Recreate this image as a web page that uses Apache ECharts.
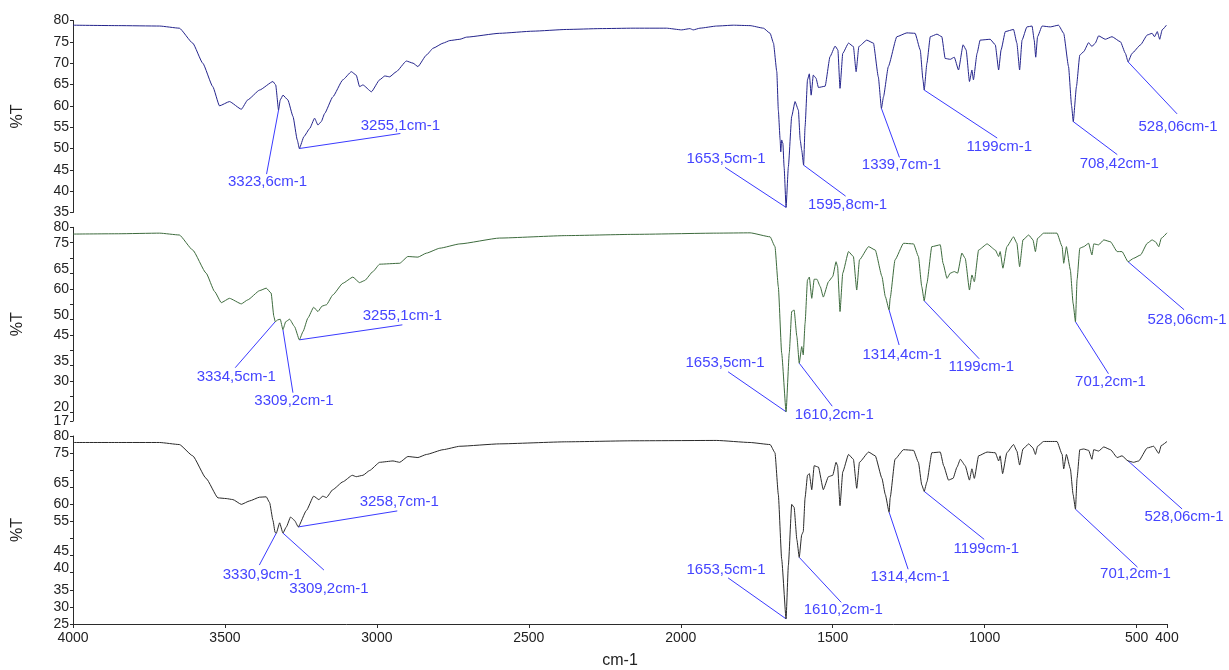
<!DOCTYPE html>
<html>
<head>
<meta charset="utf-8">
<script src="https://cdn.jsdelivr.net/npm/echarts@6/dist/echarts.min.js"></script>
<style>
  html, body { margin: 0; padding: 0; background: #ffffff; }
  #chart { width: 1229px; height: 670px; }
</style>
</head>
<body>
<div id="chart"></div>
<script>
// FTIR transmittance spectra, three samples stacked; x = wavenumber (cm-1), y = %T

const wavenumberTicks = [4000, 3500, 3000, 2500, 2000, 1500, 1000, 500, 400];

const topTicks = [35, 40, 45, 50, 55, 60, 65, 70, 75, 80];
const topLabels = [35, 40, 45, 50, 55, 60, 65, 70, 75, 80];
const topRaised = [];

const middleTicks = [17, 20, 25, 30, 35, 40, 45, 50, 55, 60, 65, 70, 75, 80];
const middleLabels = [17, 30, 45, 60, 75, 80];
const middleRaised = [20, 35, 50, 65];

const bottomTicks = [25, 30, 35, 40, 45, 50, 55, 60, 65, 70, 75, 80];
const bottomLabels = [25, 30, 35, 55, 60, 75, 80];
const bottomRaised = [40, 45, 65];

const spectrumTop = [
  [4000,78.9],[3850,78.8],[3715,78.7],[3650,78.2],[3606,74.7],[3573,70.0],[3540,64.5],[3518,60.0],
  [3485,61.0],[3446,59.2],[3425,61.4],[3386,63.7],[3342,65.7],[3333,64.9],[3323.6,59.0],[3318,61.4],
  [3309,62.5],[3293,61.4],[3276,57.5],[3262,52.0],[3255.1,50.0],[3240,52.8],[3221,54.7],[3205,57.1],
  [3194,55.5],[3183,56.3],[3172,58.2],[3145,62.1],[3112,66.1],[3084,68.0],[3068,67.2],[3057,64.5],
  [3046,64.9],[3018,63.3],[2991,66.1],[2974,67.0],[2958,66.8],[2936,68.0],[2903,70.5],[2881,70.0],
  [2865,69.2],[2837,71.9],[2815,73.5],[2782,74.7],[2760,75.3],[2727,75.6],[2705,76.1],[2596,77.0],
  [2486,77.5],[2376,77.9],[2266,78.1],[2157,78.2],[2047,78.2],[1997,77.8],[1970,78.1],[1959,77.8],
  [1937,78.2],[1882,78.7],[1827,78.9],[1772,78.8],[1728,78.2],[1706,77.0],[1695,74.7],[1684,68.0],
  [1679,59.0],[1673,52.0],[1671,49.2],[1668,52.0],[1664,51.2],[1660,45.7],[1653.5,36.2],[1646,45.7],
  [1635,57.5],[1624,61.0],[1613,59.0],[1607,52.0],[1602,49.6],[1595.8,46.1],[1591,55.1],[1583,66.1],
  [1577,67.5],[1571,62.5],[1564,67.2],[1555,66.5],[1547,64.3],[1525,64.6],[1509,71.5],[1492,74.0],
  [1483,73.1],[1476,64.1],[1467,72.3],[1448,74.7],[1432,73.9],[1423,68.0],[1414,73.9],[1388,75.4],
  [1366,74.7],[1350,66.8],[1339.7,59.4],[1333,62.1],[1317,69.2],[1289,76.2],[1256,77.1],[1229,77.0],
  [1212,73.1],[1203,66.1],[1199,63.7],[1190,70.0],[1179,76.2],[1157,76.8],[1141,76.2],[1130,71.1],
  [1113,70.9],[1100,71.4],[1086,68.4],[1071,74.3],[1061,73.1],[1050,65.7],[1042,68.4],[1037,66.1],
  [1025,72.3],[1015,75.4],[982,75.6],[965,74.3],[954,68.4],[946,73.1],[932,77.4],[905,77.9],
  [894,74.7],[885,68.4],[877,75.4],[861,78.5],[844,78.7],[837,75.4],[832,71.4],[826,76.2],
  [811,78.7],[784,78.5],[757,78.9],[740,77.0],[724,69.2],[714,60.0],[708.42,56.3],[698,64.5],
  [687,71.9],[674,72.7],[658,74.8],[647,73.9],[636,74.7],[625,76.4],[603,75.6],[581,76.2],
  [553,75.0],[537,72.3],[528.06,70.3],[515,72.3],[487,74.3],[465,76.6],[449,77.0],[441,76.2],
  [432,77.4],[424,75.6],[416,77.8],[402,78.9]
];

const spectrumMiddle = [
  [4000,77.8],[3850,77.9],[3715,78.1],[3650,77.5],[3606,72.6],[3562,65.1],[3534,59.1],[3512,55.5],
  [3485,56.9],[3446,55.1],[3425,56.4],[3386,59.4],[3364,60.2],[3348,58.6],[3339,51.0],[3334.5,49.3],
  [3326,49.9],[3318,50.1],[3309.2,46.7],[3300,49.3],[3287,50.1],[3271,47.7],[3255.1,43.4],[3243,46.1],
  [3227,50.5],[3208,54.0],[3194,52.6],[3180,54.4],[3166,54.8],[3145,58.0],[3112,61.8],[3079,63.8],
  [3057,62.0],[3040,62.7],[3013,65.6],[2991,68.0],[2925,68.3],[2898,70.5],[2865,70.3],[2837,71.6],
  [2793,73.2],[2727,74.6],[2596,76.5],[2376,77.3],[2157,77.7],[1882,78.1],[1772,78.2],[1706,76.9],
  [1690,73.7],[1679,60.7],[1668,39.1],[1653.5,20.0],[1643,39.1],[1635,52.6],[1627,53.1],[1618,44.5],
  [1610.2,35.8],[1602,41.2],[1597,38.5],[1591,48.8],[1583,62.9],[1577,63.8],[1569,56.9],[1561,63.1],
  [1552,63.1],[1541,60.7],[1531,57.3],[1514,62.3],[1500,64.0],[1489,68.8],[1484,67.2],[1476,52.6],
  [1467,65.1],[1448,72.1],[1432,70.5],[1421,59.6],[1412,69.4],[1382,73.7],[1360,72.6],[1338,64.0],
  [1327,57.5],[1314.4,53.1],[1311,56.9],[1295,69.4],[1267,74.8],[1234,74.6],[1218,70.5],[1207,60.7],
  [1199,56.1],[1190,61.8],[1174,73.7],[1146,74.3],[1137,68.3],[1124,63.4],[1113,65.1],[1100,65.6],
  [1089,65.1],[1075,71.6],[1064,69.9],[1050,59.6],[1042,64.5],[1034,62.3],[1020,72.6],[992,74.6],
  [965,72.6],[954,70.5],[949,72.1],[940,66.7],[927,73.7],[905,76.9],[894,74.8],[885,67.2],
  [874,75.9],[855,77.5],[841,75.9],[833,72.1],[826,76.4],[806,78.1],[762,78.1],[745,73.7],
  [740,68.3],[731,73.7],[718,66.1],[709,55.3],[701.2,49.3],[696,62.9],[687,73.2],[674,73.7],
  [658,74.8],[647,71.0],[641,74.6],[625,74.3],[608,75.9],[586,75.3],[564,72.1],[548,72.1],
  [528.06,68.8],[510,69.9],[487,71.0],[465,74.8],[449,75.9],[438,75.3],[427,73.7],[419,76.4],
  [400,78.2]
];

const spectrumBottom = [
  [4000,78.1],[3850,78.1],[3715,78.1],[3650,77.5],[3606,74.2],[3562,67.6],[3523,61.9],[3496,61.7],
  [3474,61.4],[3446,60.0],[3419,61.0],[3386,62.1],[3364,62.2],[3353,60.5],[3342,55.3],[3335,51.8],
  [3330.9,51.6],[3320,54.6],[3309.2,51.6],[3298,53.4],[3284,56.3],[3271,55.3],[3258.7,53.4],[3232,58.2],
  [3208,62.4],[3191,61.4],[3178,62.4],[3166,62.0],[3145,64.3],[3112,66.6],[3081,68.5],[3068,68.1],
  [3046,68.5],[3024,69.9],[2991,72.3],[2947,72.7],[2925,72.3],[2898,74.0],[2865,73.7],[2837,74.6],
  [2782,76.0],[2727,77.0],[2596,77.7],[2376,78.3],[2157,78.6],[1882,78.7],[1772,78.1],[1706,77.5],
  [1690,75.1],[1679,62.9],[1668,44.0],[1653.5,26.5],[1646,42.1],[1635,60.0],[1627,59.1],[1618,49.7],
  [1610.2,44.5],[1602,51.1],[1597,52.0],[1591,61.9],[1583,68.5],[1577,69.0],[1569,64.3],[1561,71.3],
  [1547,70.9],[1531,64.3],[1514,68.1],[1500,68.5],[1489,72.3],[1484,71.3],[1476,59.6],[1467,69.5],
  [1448,74.6],[1432,73.2],[1421,64.7],[1412,72.3],[1382,75.3],[1360,74.2],[1338,67.6],[1327,62.9],
  [1314.4,57.7],[1311,61.9],[1295,73.2],[1267,76.0],[1234,75.8],[1218,72.3],[1207,65.7],[1199,63.8],
  [1190,66.6],[1174,75.1],[1146,75.3],[1135,71.3],[1119,67.1],[1104,67.6],[1091,70.9],[1080,73.2],
  [1064,71.3],[1050,67.1],[1042,70.4],[1034,67.6],[1020,74.2],[992,75.3],[965,75.1],[954,72.7],
  [949,74.2],[941,69.0],[927,75.1],[905,77.5],[894,75.6],[885,71.5],[874,76.2],[855,77.7],
  [841,76.5],[833,74.6],[826,77.0],[806,78.4],[762,78.4],[745,74.6],[740,70.4],[731,74.6],
  [718,70.4],[709,62.9],[701.2,58.6],[696,67.6],[687,76.0],[674,76.2],[658,75.8],[647,73.2],
  [641,76.0],[625,75.6],[608,76.8],[586,76.0],[564,73.7],[548,74.2],[528.06,72.7],[510,72.3],
  [493,72.7],[465,76.5],[444,77.0],[427,74.9],[419,77.2],[400,78.4]
];

// Annotated band positions (cm-1) for each spectrum
const peaksTop = [3323.6, 3255.1, 1653.5, 1595.8, 1339.7, 1199, 708.42, 528.06];
const peaksMiddle = [3334.5, 3309.2, 3255.1, 1653.5, 1610.2, 1314.4, 1199, 701.2, 528.06];
const peaksBottom = [3330.9, 3309.2, 3258.7, 1653.5, 1610.2, 1314.4, 1199, 701.2, 528.06];

// Leader layout in pixels: [leader dx, leader dy, text dx, text dy] relative to the band point / leader end
const leadersTop = [
  [-12, 64, 1, 7.5], [101, -15, 0, -7.5], [-61, -40, 1, -8.5], [42, 31, 2, 9],
  [18, 49, 2, 7.5], [73, 48, 2, 9], [44, 33, 2, 9], [49, 52, 1, 12.5]
];
const leadersMiddle = [
  [-40, 46, 1, 9.5], [10, 63, 1, 8.5], [103, -15, 0, -9], [-58, -40, -3, -9],
  [33, 43, 2, 8.5], [10, 35, 3, 10], [55, 58, 2, 8], [33, 52, 2, 8], [56, 48, 3, 10]
];
const leadersBottom = [
  [-17, 32, 3, 9.5], [41, 37, 5, 18.5], [99, -16, 2, -9.5], [-58, -41, -2, -8],
  [42, 45, 2, 8], [19, 57, 2, 7.5], [60, 48, 2, 9], [62, 58, -2, 7], [54, 48, 2, 8]
];

const FONT = '"Liberation Sans", Arial, sans-serif';
const AXIS_COLOR = '#2b2b2b';
const TEXT_COLOR = '#222222';
const NOTE_LINE = '#3a3aff';
const NOTE_TEXT = '#4444ff';

const panels = [
  { data: spectrumTop, color: '#24248c', min: 35, max: 80, ticks: topTicks, labels: topLabels, raised: topRaised,
    peaks: peaksTop, leaders: leadersTop, grid: { top: 20.5, height: 192 } },
  { data: spectrumMiddle, color: '#3d6b3d', min: 17, max: 80, ticks: middleTicks, labels: middleLabels, raised: middleRaised,
    peaks: peaksMiddle, leaders: leadersMiddle, grid: { top: 227.3, height: 193.7 } },
  { data: spectrumBottom, color: '#2a2a2a', min: 25, max: 80, ticks: bottomTicks, labels: bottomLabels, raised: bottomRaised,
    peaks: peaksBottom, leaders: leadersBottom, grid: { top: 436, height: 195.5 } }
];

const labelStyle = { fontSize: 14, fontFamily: FONT, color: TEXT_COLOR };

const chart = echarts.init(document.getElementById('chart'), null, { renderer: 'canvas' });

// Main %T axes (one per panel)
const mainYAxes = panels.map((p, i) => ({
  type: 'value',
  gridIndex: i,
  min: p.min,
  max: p.max,
  axisLine: { show: true, onZero: false, lineStyle: { color: AXIS_COLOR, width: 1 } },
  axisTick: { show: true, customValues: p.ticks, length: 3, lineStyle: { color: AXIS_COLOR } },
  axisLabel: Object.assign({
    customValues: p.labels,
    showMinLabel: true,
    showMaxLabel: true,
    hideOverlap: false,
    margin: 4,
    formatter: v => String(v)
  }, labelStyle),
  splitLine: { show: false },
  name: '%T',
  nameLocation: 'middle',
  nameRotate: 90,
  nameGap: 47,
  nameTextStyle: { fontSize: 16, fontFamily: FONT, color: TEXT_COLOR }
}));

// Companion axes that carry the labels drawn sitting on their tick
const raisedYAxes = panels.map((p, i) => ({
  type: 'value',
  gridIndex: i,
  min: p.min,
  max: p.max,
  position: 'left',
  offset: 0,
  axisLine: { show: false },
  axisTick: { show: false },
  axisLabel: Object.assign({
    show: p.raised.length > 0,
    customValues: p.raised.length ? p.raised : [p.max],
    showMinLabel: true,
    showMaxLabel: true,
    hideOverlap: false,
    margin: 4,
    lineHeight: 9,
    verticalAlign: 'bottom',
    formatter: v => String(v)
  }, labelStyle),
  splitLine: { show: false }
}));

const option = {
  animation: false,
  backgroundColor: '#ffffff',
  grid: panels.map(p => ({ left: 73, right: 62, top: p.grid.top, height: p.grid.height, containLabel: false })),
  xAxis: panels.map((p, i) => ({
    type: 'value',
    gridIndex: i,
    min: 400,
    max: 4000,
    inverse: true,
    show: i === panels.length - 1,
    axisLine: { show: true, onZero: false, lineStyle: { color: AXIS_COLOR, width: 1 } },
    axisTick: { show: true, customValues: wavenumberTicks, length: 4, lineStyle: { color: AXIS_COLOR } },
    axisLabel: Object.assign({
      customValues: wavenumberTicks,
      formatter: v => String(v),
      hideOverlap: false,
      margin: 7
    }, labelStyle),
    splitLine: { show: false },
    name: 'cm-1',
    nameLocation: 'middle',
    nameGap: 29,
    nameTextStyle: { fontSize: 16, fontFamily: FONT, color: TEXT_COLOR }
  })),
  yAxis: mainYAxes.concat(raisedYAxes),
  series: panels.map((p, i) => ({
    type: 'line',
    xAxisIndex: i,
    yAxisIndex: i,
    data: p.data,
    showSymbol: false,
    symbol: 'none',
    silent: true,
    smooth: 0.15,
    smoothMonotone: 'x',
    lineStyle: { color: p.color, width: 1 }
  }))
};

chart.setOption(option);

// Band annotations: leader line from the band point and its wavenumber label
function bandLabel(wn) {
  return String(wn).replace('.', ',') + 'cm-1';
}

const graphics = [];
panels.forEach((p, i) => {
  p.peaks.forEach((wn, k) => {
    const point = p.data.find(d => d[0] === wn);
    const [px, py] = chart.convertToPixel({ seriesIndex: i }, point);
    const [dx, dy, tdx, tdy] = p.leaders[k];
    const ex = px + dx, ey = py + dy;
    graphics.push({
      type: 'line',
      silent: true,
      shape: { x1: px, y1: py, x2: ex, y2: ey },
      style: { stroke: NOTE_LINE, lineWidth: 1 }
    });
    graphics.push({
      type: 'text',
      silent: true,
      x: ex + tdx,
      y: ey + tdy,
      style: {
        text: bandLabel(wn),
        fill: NOTE_TEXT,
        font: '15px ' + FONT,
        align: 'center',
        verticalAlign: 'middle'
      }
    });
  });
});

chart.setOption({ graphic: graphics });
</script>
</body>
</html>
